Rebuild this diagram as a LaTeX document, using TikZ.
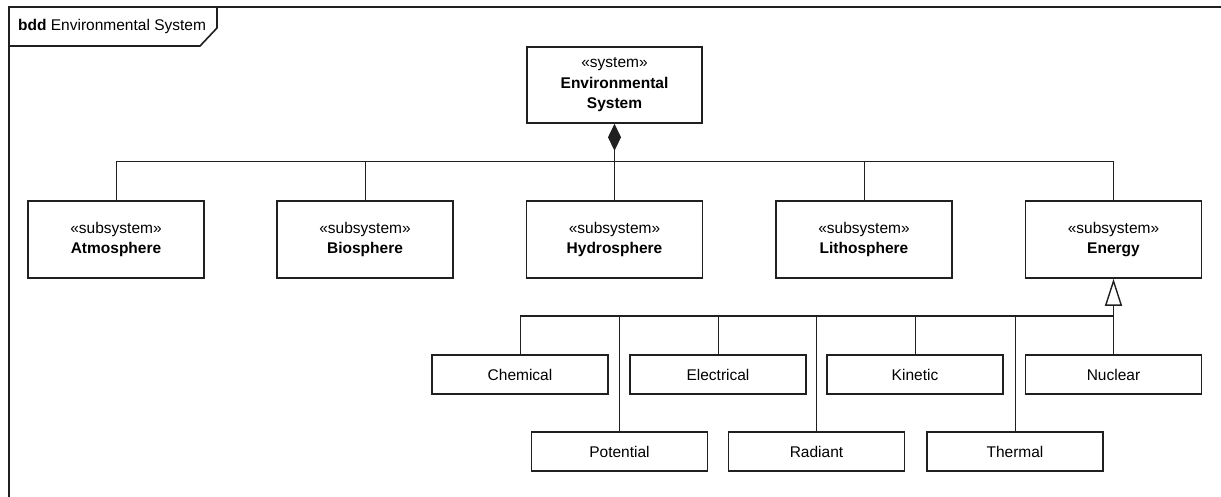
\documentclass[tikz,border=0pt]{standalone}
\usepackage{fontspec}
\setmainfont{Liberation Sans}
\usetikzlibrary{arrows.meta}
\definecolor{ln}{HTML}{202020}
\tikzset{
  every node/.style={font=\fontsize{15.5}{20.5}\selectfont},
  block/.style={draw=ln, line width=1.6pt, minimum width=176pt, minimum height=77pt, align=center, inner sep=0pt, fill=white},
  leaf/.style={draw=ln, line width=1.6pt, minimum width=176pt, minimum height=39pt, align=center, inner sep=0pt, fill=white},
  conn/.style={draw=ln, line width=1pt},
  framel/.style={draw=ln, line width=1.6pt}
}
\begin{document}
\begin{tikzpicture}[x=1pt,y=-1pt]
\useasboundingbox (0,0) rectangle (1221,497);
% frame
\draw[framel] (1221,7) -- (9,7) -- (9,497);
\draw[framel] (9,46) -- (200,46) -- (217,28) -- (217,7);
\node[anchor=base west, inner sep=0pt] (flabel) at (18,31) {\textbf{bdd} Environmental System};

% system
\node[block, minimum width=175pt, minimum height=76pt] (sys) at (614.5,85) {«system»\\\textbf{Environmental}\\\textbf{System}};

% subsystems
\node[block] (atm) at (116,239.5) {«subsystem»\\\textbf{Atmosphere}};
\node[block] (bio) at (365,239.5) {«subsystem»\\\textbf{Biosphere}};
\node[block] (hyd) at (614.5,239.5) {«subsystem»\\\textbf{Hydrosphere}};
\node[block] (lit) at (864,239.5) {«subsystem»\\\textbf{Lithosphere}};
\node[block] (ene) at (1113.5,239.5) {«subsystem»\\\textbf{Energy}};

% energy kinds
\node[leaf] (che) at (520,374.5) {Chemical};
\node[leaf] (ele) at (718,374.5) {Electrical};
\node[leaf] (kin) at (915,374.5) {Kinetic};
\node[leaf] (nuc) at (1113.5,374.5) {Nuclear};
\node[leaf] (pot) at (619.5,451.5) {Potential};
\node[leaf] (rad) at (816.5,451.5) {Radiant};
\node[leaf] (the) at (1015,451.5) {Thermal};

% composition
\coordinate (cbus) at (614.5,162);
\draw[conn, {Diamond[length=27pt,width=13pt,fill=ln]}-] (sys.south) -- (cbus);
\foreach \n in {atm,bio,hyd,lit,ene} {
  \draw[conn] (\n.north) |- (cbus);
}

% generalization
\coordinate (gbus) at (1113.5,316);
\draw[conn, -{Triangle[open,length=27pt,width=17pt,line width=1.4pt]}] (gbus) -- (ene.south);
\draw[conn, line width=1.6pt] (che.north |- gbus) -- (gbus);
\foreach \n in {che,ele,kin,nuc,pot,rad,the} {
  \draw[conn] (\n.north) -- (\n.north |- gbus);
}
\end{tikzpicture}
\end{document}
